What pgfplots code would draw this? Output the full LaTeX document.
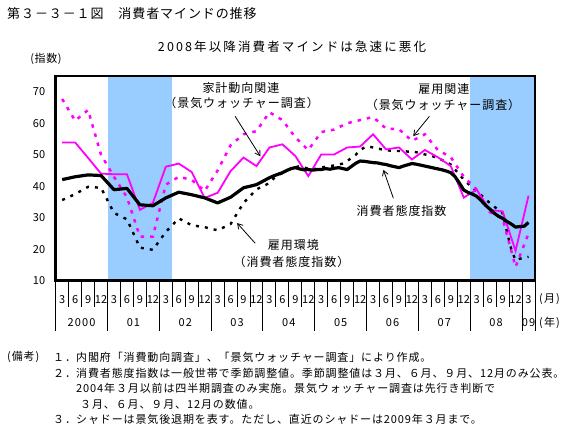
\documentclass[border=0pt]{standalone}
\usepackage{fontspec}
\setmainfont{Noto Sans CJK JP}
\usepackage{pgfplots}
\pgfplotsset{compat=1.18}
\usetikzlibrary{arrows.meta}
\definecolor{shade}{RGB}{153,204,255}
\definecolor{mag}{RGB}{255,0,255}
\newcommand{\fsz}[1]{\fontsize{#1}{#1}\selectfont}
\newcommand{\ls}[1]{\addfontfeatures{LetterSpace=#1}}

\begin{document}
\begin{tikzpicture}
\useasboundingbox (0pt,0pt) rectangle (570pt,434pt);
% titles
\node[anchor=west,inner sep=0pt,font=\fsz{13}\ls{7}] at (7pt,420pt) {第３－３－１図　消費者マインドの推移};
\node[inner sep=0pt,font=\fsz{12.5}\ls{17}] at (292pt,387pt) {2008年以降消費者マインドは急速に悪化};
\node[inner sep=0pt,font=\fsz{11}\ls{5}] at (46pt,375.5pt) {(指数)};
\node[anchor=west,inner sep=0pt,font=\fsz{11}\ls{10}] at (539pt,135pt) {(月)};
\node[anchor=west,inner sep=0pt,font=\fsz{11}\ls{10}] at (539pt,111.5pt) {(年)};
% notes
\begin{scope}[every node/.style={anchor=west,inner sep=0pt,font=\fsz{11}\ls{8}}]
\node at (7pt,77pt) {(備考)};
\node at (53pt,77pt) {１．};
\node at (76pt,77pt) {内閣府「消費動向調査」、「景気ウォッチャー調査」により作成。};
\node at (53pt,61pt) {２．};
\node at (76pt,61pt) {消費者態度指数は一般世帯で季節調整値。季節調整値は３月、６月、９月、12月のみ公表。};
\node at (76pt,45.5pt) {2004年３月以前は四半期調査のみ実施。景気ウォッチャー調査は先行き判断で};
\node at (80pt,30pt) {３月、６月、９月、12月の数値。};
\node at (53pt,14.5pt) {３．};
\node at (76pt,14.5pt) {シャドーは景気後退期を表す。ただし、直近のシャドーは2009年３月まで。};
\end{scope}

\begin{axis}[
  at={(55.7pt,153.3pt)}, anchor=south west,
  scale only axis, width=479.3pt, height=204.7pt,
  xmin=1.5, xmax=112.5, ymin=10, ymax=75,
  clip=false, axis on top,
  axis line style={line width=2.5pt},
  major tick length=0pt,
  xtick style={draw=none}, ytick style={draw=none},
  ytick={10,20,30,40,50,60,70},
  /pgf/number format/assume math mode=true,
  yticklabel style={font=\fsz{11}, anchor=east, xshift=-7pt},
  xtick={3,6,...,111},
  xticklabels={3,6,9,12,3,6,9,12,3,6,9,12,3,6,9,12,3,6,9,12,3,6,9,12,3,6,9,12,3,6,9,12,3,6,9,12,3},
  xticklabel style={font=\fsz{11}, anchor=center, yshift=-18.6pt, inner sep=0pt},
]
% recession shading
\addplot[fill=shade, draw=none] coordinates {(13.5,10) (13.5,75) (28.5,75) (28.5,10)} -- cycle;
\addplot[fill=shade, draw=none] coordinates {(97.5,10) (97.5,75) (112.5,75) (112.5,10)} -- cycle;

% 雇用環境 (消費者態度指数) - black dotted
\addplot[black, line width=2.4pt, dash pattern=on 3pt off 6pt] coordinates {
(3,35.6)(6,37.5)(9,39.8)(12,39.5)(15,31.5)(18,29.5)(21,20.5)(24,19.8)(27,25.5)(30,29.8)
(33,27.6)(36,27.0)(39,26.0)(42,28.0)(45,34.7)(48,39.0)
(51,41.0)(52,42.5)(53,43.5)(54,44.2)(55,45.0)(56,45.5)(57,46.0)(58,46.4)(59,46.0)(60,45.5)
(61,45.3)(62,45.6)(63,45.9)(64,46.2)(65,46.4)(66,46.6)(67,46.9)(68,47.2)(69,48.0)(70,49.0)(71,50.0)(72,51.5)
(73,52.3)(74,52.6)(75,52.3)(76,52.0)(77,51.7)(78,51.5)(79,51.3)(80,51.2)(81,51.2)(82,51.2)(83,51.0)(84,51.0)
(85,50.8)(86,50.5)(87,50.1)(88,49.8)(89,49.4)(90,49.0)(91,48.3)(92,47.6)(93,46.9)(94,45.3)(95,43.7)(96,42.1)
(97,40.8)(98,39.6)(99,38.4)(100,37.2)(101,36.0)(102,34.7)(103,33.6)(104,32.5)(105,31.5)(106,25.6)(107,20.0)(108,16.5)
(109,17.0)(110,17.2)(111,17.6)};

% 雇用関連 (景気ウォッチャー) - magenta dotted
\addplot[mag, line width=2.5pt, dash pattern=on 3.5pt off 6pt] coordinates {
(3,67.7)(6,60.8)(9,64.2)(12,50.0)(15,43.0)(18,36.5)(21,24.0)(24,24.0)(27,40.5)(30,43.0)
(33,42.0)(36,38.5)(39,45.0)(42,53.0)(45,56.5)(48,57.5)(51,63.5)(54,61.0)(57,55.5)(60,51.5)
(63,57.2)(66,58.0)(69,60.0)(72,61.0)(75,62.0)(78,58.3)(81,58.1)(84,54.4)(87,56.5)(90,51.5)
(93,49.2)(96,43.0)(99,38.9)(102,31.8)(105,29.8)(108,14.4)(111,25.0)};

% 家計動向関連 (景気ウォッチャー) - magenta solid
\addplot[mag, line width=1.8pt] coordinates {
(3,53.9)(6,53.9)(9,49.0)(12,44.0)(15,43.8)(18,43.8)(21,32.5)(24,34.7)(27,46.2)(30,47.2)
(33,44.5)(36,36.3)(39,37.9)(42,44.8)(45,49.1)(48,46.4)(51,52.3)(54,53.3)(57,49.6)(60,43.2)
(63,50.1)(66,50.1)(69,52.3)(72,52.6)(75,56.5)(78,51.7)(81,52.3)(84,48.5)(87,51.5)(90,49.2)
(93,46.4)(96,36.4)(99,38.9)(102,32.5)(105,32.0)(108,19.5)(111,37.0)};

% 消費者態度指数 - black solid
\addplot[black, line width=3.2pt, line join=round] coordinates {
(3,42.1)(6,43.0)(9,43.6)(12,43.4)(15,38.9)(18,39.3)(21,34.1)(24,33.8)(27,36.3)(30,38.1)
(33,37.3)(36,36.3)(39,34.7)(42,36.5)(45,39.5)(48,40.5)
(51,42.7)(52,43.3)(53,43.8)(54,44.3)(55,45.0)(56,45.6)(57,45.9)(58,45.5)(59,45.2)(60,45.3)
(61,45.1)(62,45.3)(63,45.3)(64,45.6)(65,45.4)(66,45.7)(67,45.9)(68,45.6)(69,45.3)(70,46.3)(71,47.3)(72,48.0)
(73,47.9)(74,47.7)(75,47.5)(76,47.4)(77,47.1)(78,46.9)(79,46.5)(80,46.2)(81,45.9)(82,46.4)(83,46.8)(84,47.2)
(85,47.0)(86,46.7)(87,46.4)(88,46.1)(89,45.8)(90,45.5)(91,45.2)(92,44.8)(93,44.3)(94,43.0)(95,41.0)(96,38.8)
(97,38.0)(98,37.5)(99,36.8)(100,35.5)(101,34.0)(102,32.8)(103,31.5)(104,30.5)(105,29.8)(106,28.8)(107,28.0)(108,27.0)
(109,27.2)(110,27.3)(111,28.5)};

% annotations
\begin{scope}[every node/.style={inner sep=0pt,font=\fsz{12}\ls{8}}]
\node at (axis cs:44.4,71.3) {家計動向関連};
\node at (axis cs:44.55,66.6) {（景気ウォッチャー調査）};
\node at (axis cs:91.4,71.0) {雇用関連};
\node at (axis cs:91.2,65.9) {（景気ウォッチャー調査）};
\node at (axis cs:81.6,32.0) {消費者態度指数};
\node at (axis cs:56.55,21.4) {雇用環境};
\node at (axis cs:56.1,16.05) {（消費者態度指数）};
\end{scope}
\draw[line width=0.8pt,-{Straight Barb[length=5pt,width=6pt]}] (axis cs:43.05,62.2) -- (axis cs:48.9,49.5);
\draw[line width=0.8pt,-{Straight Barb[length=5pt,width=6pt]}] (axis cs:88.05,62.2) -- (axis cs:84.3,55.9);
\draw[line width=0.8pt,-{Straight Barb[length=5pt,width=6pt]}] (axis cs:79.7,36.2) -- (axis cs:77.4,45.2);
\draw[line width=0.8pt,-{Straight Barb[length=5pt,width=6pt]}] (axis cs:47.7,21.9) -- (axis cs:43.5,28.3);

% x axis table lines
\pgfplotsinvokeforeach{1.5,4.5,7.5,10.5,13.5,16.5,19.5,22.5,25.5,28.5,31.5,34.5,37.5,40.5,43.5,46.5,49.5,52.5,55.5,58.5,61.5,64.5,67.5,70.5,73.5,76.5,79.5,82.5,85.5,88.5,91.5,94.5,97.5,100.5,103.5,106.5,109.5,112.5}{
  \draw[line width=1pt] (axis cs:#1,10) -- ++(0pt,-26pt);
}
\pgfplotsinvokeforeach{1.5,13.5,25.5,37.5,49.5,61.5,73.5,85.5,97.5,109.5,112.5}{
  \draw[line width=1pt] (axis cs:#1,10) -- ++(0pt,-50pt);
}
% year labels
\begin{scope}[every node/.style={inner sep=0pt,font=\fsz{11}\ls{10}}]
\node at (axis cs:7.5,10) [yshift=-42pt] {2000};
\node at (axis cs:19.5,10) [yshift=-42pt] {01};
\node at (axis cs:31.5,10) [yshift=-42pt] {02};
\node at (axis cs:43.5,10) [yshift=-42pt] {03};
\node at (axis cs:55.5,10) [yshift=-42pt] {04};
\node at (axis cs:67.5,10) [yshift=-42pt] {05};
\node at (axis cs:79.5,10) [yshift=-42pt] {06};
\node at (axis cs:91.5,10) [yshift=-42pt] {07};
\node at (axis cs:103.5,10) [yshift=-42pt] {08};
\node at (axis cs:111,10) [yshift=-42pt] {09};
\end{scope}
\end{axis}
\end{tikzpicture}
\end{document}
